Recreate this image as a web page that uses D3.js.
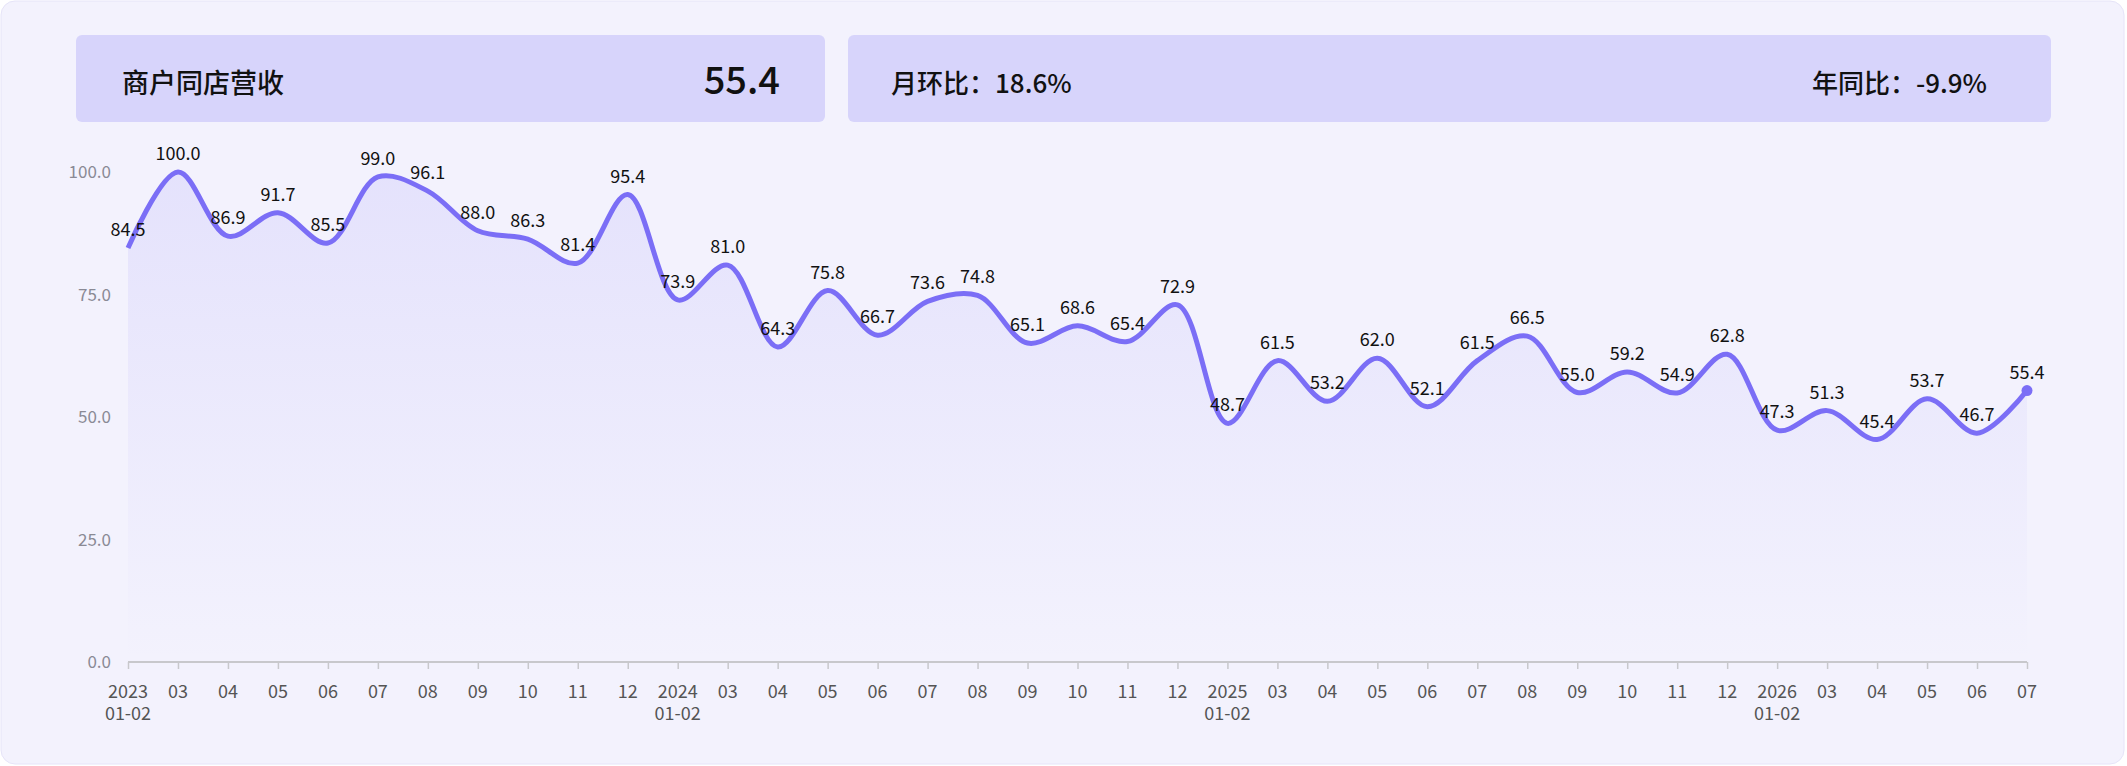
<!DOCTYPE html>
<html><head><meta charset="utf-8">
<script src="https://cdn.jsdelivr.net/npm/d3@7"></script>
<style>body{margin:0;background:#fff;font-family:"Noto Sans CJK SC","Noto Sans",sans-serif}</style>
</head><body><svg id="c" width="2127" height="766"></svg>
<script>
const tickTop = ["2023","03","04","05","06","07","08","09","10","11","12","2024","03","04","05","06","07","08","09","10","11","12","2025","03","04","05","06","07","08","09","10","11","12","2026","03","04","05","06","07"];
const tickBottom = {0:"01-02",11:"01-02",22:"01-02",33:"01-02"};
const values = [84.5,100,86.9,91.7,85.5,99,96.1,88,86.3,81.4,95.4,73.9,81,64.3,75.8,66.7,73.6,74.8,65.1,68.6,65.4,72.9,48.7,61.5,53.2,62,52.1,61.5,66.5,55,59.2,54.9,62.8,47.3,51.3,45.4,53.7,46.7,55.4];
const yTicks = [0,25,50,75,100];
const title = "商户同店营收", current = "55.4", mom = "月环比：18.6%", yoy = "年同比：-9.9%";

const svg = d3.select("#c");
svg.append("rect").attr("x",1).attr("y",1).attr("width",2123).attr("height",763).attr("rx",14).attr("fill","#f3f2fd").attr("stroke","#e6e4f8");
svg.append("rect").attr("x",76).attr("y",35).attr("width",749).attr("height",87).attr("rx",6).attr("fill","#d7d4fb");
svg.append("rect").attr("x",848).attr("y",35).attr("width",1203).attr("height",87).attr("rx",6).attr("fill","#d7d4fb");
svg.append("text").attr("x",122).attr("y",93).attr("font-size",27).attr("font-weight",500).attr("fill","#111").text(title);
svg.append("text").attr("x",780).attr("y",94).attr("text-anchor","end").attr("font-size",38).attr("font-weight",500).attr("fill","#111").text(current);
svg.append("text").attr("x",891).attr("y",93).attr("font-size",26).attr("font-weight",500).attr("fill","#111").text(mom);
svg.append("text").attr("x",1987).attr("y",93).attr("text-anchor","end").attr("font-size",26).attr("font-weight",500).attr("fill","#111").text(yoy);

const x = d3.scaleLinear().domain([0,values.length-1]).range([128,2027]);
const y = d3.scaleLinear().domain([0,100]).range([662,172]);
const defs = svg.append("defs");
const g = defs.append("linearGradient").attr("id","ag").attr("x1",0).attr("y1",0).attr("x2",0).attr("y2",1);
g.append("stop").attr("offset","0").attr("stop-color","#7b6ef6").attr("stop-opacity",0.12);
g.append("stop").attr("offset","1").attr("stop-color","#7b6ef6").attr("stop-opacity",0.0);
const curve = d3.curveCatmullRom.alpha(0.5);
svg.append("path").datum(values).attr("fill","url(#ag)")
  .attr("d", d3.area().x((d,i)=>x(i)).y0(y(0)).y1(d=>y(d)).curve(curve));
svg.append("g").selectAll("text").data(yTicks).join("text")
  .attr("x",111).attr("y",d=>y(d)+6).attr("text-anchor","end").attr("font-size",17).attr("fill","#8a8a95").text(d=>d.toFixed(1));
const xa = svg.append("g").attr("transform",`translate(0,${y(0)})`)
  .call(d3.axisBottom(x).tickValues(d3.range(values.length)).tickSize(7).tickFormat(""));
xa.select(".domain").attr("stroke","#c8c8cc").attr("stroke-width",2).attr("d",`M${x(0)},0H${x(values.length-1)}`);
xa.selectAll(".tick line").attr("stroke","#c8c8cc").attr("stroke-width",1.5);
svg.append("g").selectAll("text").data(tickTop).join("text")
  .attr("x",(d,i)=>x(i)).attr("y",698).attr("text-anchor","middle").attr("font-size",18).attr("fill","#555").text(d=>d);
svg.append("g").selectAll("text").data(Object.entries(tickBottom)).join("text")
  .attr("x",d=>x(+d[0])).attr("y",720).attr("text-anchor","middle").attr("font-size",18).attr("fill","#555").text(d=>d[1]);
svg.append("path").datum(values).attr("fill","none").attr("stroke","#7b6ef6").attr("stroke-width",5).attr("stroke-linejoin","round")
  .attr("d", d3.line().x((d,i)=>x(i)).y(d=>y(d)).curve(curve));
svg.append("circle").attr("cx",x(values.length-1)).attr("cy",y(values[values.length-1])).attr("r",5.5).attr("fill","#7b6ef6");
svg.append("g").selectAll("text").data(values).join("text")
  .attr("x",(d,i)=>x(i)).attr("y",d=>y(d)-12).attr("text-anchor","middle").attr("font-size",18).attr("fill","#111").text(d=>d.toFixed(1));
</script></body></html>
